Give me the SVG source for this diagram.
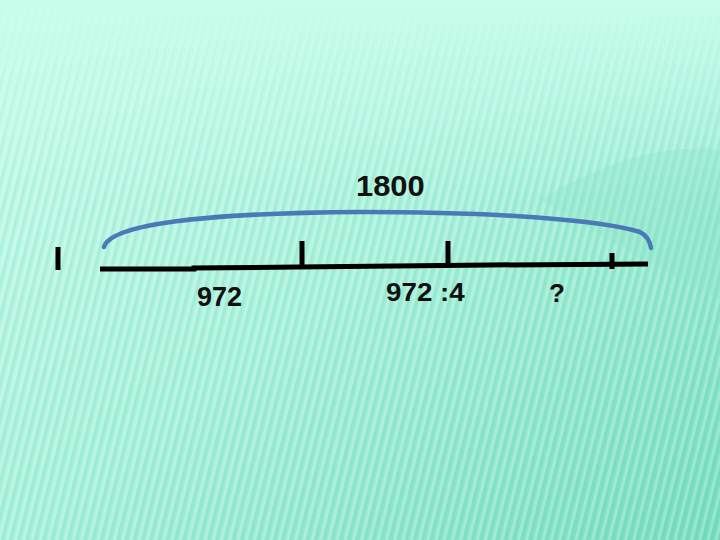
<svg xmlns="http://www.w3.org/2000/svg" width="720" height="540" viewBox="0 0 720 540">
<defs>
<linearGradient id="bg" x1="0" y1="0" x2="1" y2="1">
<stop offset="0" stop-color="#c6fbea"/>
<stop offset="0.5" stop-color="#a4f0d8"/>
<stop offset="1" stop-color="#74dcbd"/>
</linearGradient>
<linearGradient id="topfade" x1="0" y1="0" x2="0" y2="1">
<stop offset="0" stop-color="#c8fdec" stop-opacity="1"/>
<stop offset="0.35" stop-color="#c8fdec" stop-opacity="0.6"/>
<stop offset="1" stop-color="#c8fdec" stop-opacity="0"/>
</linearGradient>
<pattern id="stripes" width="8" height="8" patternUnits="userSpaceOnUse" patternTransform="rotate(14)">
<rect x="0" y="0" width="3" height="8" fill="#ffffff" opacity="0.25"/>
<rect x="4" y="0" width="2" height="8" fill="#4fb89a" opacity="0.1"/>
</pattern>
<style>
.ink{stroke:#000;stroke-width:5;fill:none;stroke-linecap:butt}
.lbl{font-family:"Liberation Sans",Arial,sans-serif;font-weight:bold;fill:#111}
</style>
</defs>
<g id="background">
<rect width="720" height="540" fill="url(#bg)"/>
<rect width="720" height="540" fill="url(#stripes)"/>
<rect width="720" height="200" fill="url(#topfade)"/>
<path d="M540,200 Q640,140 720,150 L720,300 Q640,260 540,200 Z" fill="#8fe6cb" opacity="0.35"/>
</g>
<g id="brace">
<path d="M104,247 C110,225 200,213 360,212 C500,212 600,220 640,232 C648,236 650,242 651,248" fill="none" stroke="#4a79b6" stroke-width="4.5" stroke-linecap="round"/>
</g>
<g id="connectors">
<polyline class="ink" points="100,269 194,269 194,268 298,267 395,266 490,265 648,264"/>
<line class="ink" x1="58" y1="247" x2="58" y2="270"/>
<line class="ink" x1="302" y1="241" x2="302" y2="268"/>
<line class="ink" x1="448" y1="241" x2="448" y2="266"/>
<line class="ink" x1="612" y1="253" x2="612" y2="269"/>
</g>
<g id="labels">
<text class="lbl" font-size="30" transform="translate(356,196) scale(1.03,1)">1800</text>
<text class="lbl" x="197" y="306" font-size="27">972</text>
<text class="lbl" font-size="26" transform="translate(386,301) scale(1.07,1)">972 :4</text>
<text class="lbl" x="549" y="302" font-size="26">?</text>
</g>
</svg>
